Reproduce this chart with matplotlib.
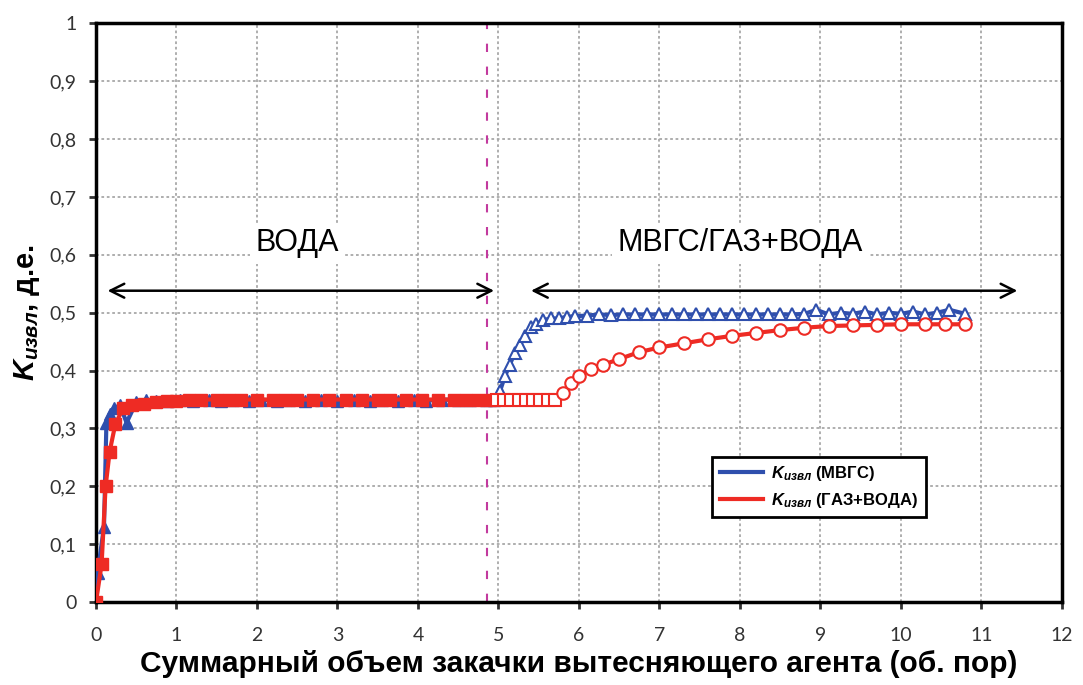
import matplotlib
matplotlib.use('Agg')
import matplotlib.pyplot as plt
from matplotlib.ticker import FuncFormatter

plt.rcParams['font.family'] = ['Liberation Sans', 'DejaVu Sans']
plt.rcParams['mathtext.fontset'] = 'custom'
plt.rcParams['mathtext.rm'] = 'Liberation Sans:bold'
plt.rcParams['mathtext.it'] = 'Liberation Sans:italic:bold'
plt.rcParams['mathtext.bf'] = 'Liberation Sans:bold'

# МВГС, water stage (filled triangles)
blue_w_x = [0, 0.02, 0.1, 0.13, 0.17, 0.22, 0.3, 0.38, 0.5, 0.62, 0.75, 0.9, 1.05, 1.2, 1.4,
            1.55, 1.7, 1.9, 2.05, 2.25, 2.4, 2.6, 2.8, 3.0, 3.2, 3.4, 3.55, 3.75, 3.95, 4.1,
            4.3, 4.5, 4.65, 4.85, 4.95]
blue_w_y = [0, 0.05, 0.13, 0.31, 0.325, 0.335, 0.34, 0.31, 0.345, 0.35, 0.347, 0.348, 0.35,
            0.347, 0.35, 0.348, 0.35, 0.348, 0.35, 0.347, 0.35, 0.348, 0.35, 0.347, 0.35,
            0.348, 0.35, 0.347, 0.35, 0.348, 0.35, 0.349, 0.35, 0.349, 0.35]
# МВГС, gas stage (open triangles)
blue_g_x = [5.02, 5.08, 5.14, 5.2, 5.27, 5.33, 5.4, 5.47, 5.55, 5.65, 5.75, 5.85, 5.95, 6.1,
            6.25, 6.4, 6.55, 6.7, 6.85, 7.0, 7.15, 7.3, 7.45, 7.6, 7.75, 7.9, 8.05, 8.2,
            8.35, 8.5, 8.65, 8.8, 8.95, 9.1, 9.25, 9.4, 9.55, 9.7, 9.85, 10.0, 10.15, 10.3,
            10.45, 10.6, 10.8]
blue_g_y = [0.365, 0.39, 0.41, 0.43, 0.445, 0.46, 0.475, 0.48, 0.487, 0.49, 0.49, 0.493,
            0.494, 0.495, 0.497, 0.496, 0.497, 0.497, 0.497, 0.497, 0.497, 0.497, 0.497,
            0.497, 0.497, 0.497, 0.497, 0.497, 0.497, 0.497, 0.497, 0.498, 0.505, 0.497,
            0.5, 0.498, 0.502, 0.497, 0.5, 0.498, 0.502, 0.497, 0.5, 0.505, 0.498]

# ГАЗ+ВОДА, water stage (filled squares)
red_w_x = [0, 0.07, 0.12, 0.17, 0.24, 0.34, 0.45, 0.6, 0.75, 0.88, 1.0, 1.15, 1.3, 1.5, 1.65,
           1.8, 2.0, 2.2, 2.35, 2.5, 2.7, 2.9, 3.1, 3.3, 3.5, 3.65, 3.85, 4.05, 4.25, 4.45,
           4.6, 4.75, 4.9]
red_w_y = [0, 0.065, 0.2, 0.26, 0.307, 0.336, 0.34, 0.342, 0.345, 0.348, 0.348, 0.349, 0.35,
           0.35, 0.35, 0.35, 0.35, 0.35, 0.35, 0.35, 0.35, 0.35, 0.35, 0.35, 0.35, 0.35,
           0.35, 0.35, 0.35, 0.35, 0.35, 0.35, 0.35]
# ГАЗ+ВОДА, gas stage (open squares, then open circles)
red_s_x = [4.98, 5.07, 5.16, 5.25, 5.34, 5.43, 5.52, 5.61, 5.7]
red_s_y = [0.35, 0.35, 0.35, 0.35, 0.35, 0.35, 0.35, 0.35, 0.35]
red_c_x = [5.8, 5.9, 6.0, 6.15, 6.3, 6.5, 6.75, 7.0, 7.3, 7.6, 7.9, 8.2, 8.5, 8.8, 9.1,
           9.4, 9.7, 10.0, 10.3, 10.55, 10.8]
red_c_y = [0.362, 0.378, 0.39, 0.403, 0.41, 0.42, 0.432, 0.44, 0.447, 0.454, 0.46, 0.465,
           0.47, 0.474, 0.477, 0.478, 0.479, 0.48, 0.48, 0.48, 0.48]

x_ticks = list(range(0, 13))
y_ticks = [i / 10 for i in range(11)]
switch_x = 4.86

blue = '#2f4fad'
red = '#ee2b24'

fig = plt.figure(figsize=(10.83, 6.85), dpi=100)
ax = fig.add_axes([0.0886, 0.121, 0.892, 0.845])

ax.plot(blue_w_x + blue_g_x, blue_w_y + blue_g_y, color=blue, lw=3, zorder=3)
ax.plot(blue_w_x, blue_w_y, ls='none', marker='^', ms=8, color=blue, zorder=4)
ax.plot(blue_g_x, blue_g_y, ls='none', marker='^', ms=8, mfc='white', mec=blue, mew=1.5, zorder=4)

ax.plot(red_w_x + red_s_x + red_c_x, red_w_y + red_s_y + red_c_y, color=red, lw=3, zorder=5)
ax.plot(red_w_x, red_w_y, ls='none', marker='s', ms=8, color=red, zorder=6)
ax.plot(red_s_x, red_s_y, ls='none', marker='s', ms=8, mfc='white', mec=red, mew=1.5, zorder=6)
ax.plot(red_c_x, red_c_y, ls='none', marker='o', ms=9, mfc='white', mec=red, mew=1.5, zorder=6)

ax.axvline(switch_x, color='#c23a9e', lw=1.5, dashes=(4, 7), zorder=2)

ax.annotate('', xy=(0.11, 0.538), xytext=(4.98, 0.538),
            arrowprops=dict(arrowstyle='<->', color='black', lw=1.8, mutation_scale=25))
ax.annotate('', xy=(5.37, 0.538), xytext=(11.48, 0.538),
            arrowprops=dict(arrowstyle='<->', color='black', lw=1.8, mutation_scale=25))
ax.text(2.5, 0.62, 'ВОДА', fontsize=22, ha='center', va='center',
        bbox=dict(fc='white', ec='none', pad=4))
ax.text(8.0, 0.62, 'МВГС/ГАЗ+ВОДА', fontsize=22, ha='center', va='center',
        bbox=dict(fc='white', ec='none', pad=4))

ax.set_xlim(0, 12)
ax.set_ylim(0, 1)
ax.set_xticks(x_ticks)
ax.set_yticks(y_ticks)
ax.yaxis.set_major_formatter(FuncFormatter(lambda v, p: ('%g' % v).replace('.', ',')))
ax.grid(True, color='#a8a8a8', ls=(0, (1.5, 1.5)), lw=1.3)
ax.set_axisbelow(True)
for s in ax.spines.values():
    s.set_color('black')
    s.set_linewidth(2.5)
ax.tick_params(direction='out', length=5, width=2, labelsize=14, colors='#333333')
ax.tick_params(axis='x', pad=13)
ax.tick_params(axis='y', pad=9)
for lab in ax.get_xticklabels() + ax.get_yticklabels():
    lab.set_family(['Lato', 'DejaVu Sans'])

ax.set_xlabel('Суммарный объем закачки вытесняющего агента (об. пор)',
              fontsize=21.5, fontweight='bold', labelpad=4)
ax.set_ylabel(r'$K_{извл}$, д.е.', fontsize=21, fontweight='bold', labelpad=5)

h1, = ax.plot([], [], color=blue, lw=3)
h2, = ax.plot([], [], color=red, lw=3)
leg = ax.legend([h1, h2], [r'$K_{извл}$ (МВГС)', r'$K_{извл}$ (ГАЗ+ВОДА)'],
                loc='lower left', bbox_to_anchor=(0.638, 0.147), borderaxespad=0,
                fancybox=False, edgecolor='black', framealpha=1, handlelength=2.6,
                handletextpad=0.5, prop={'weight': 'bold', 'size': 12},
                borderpad=0.45, labelspacing=0.45)
leg.get_frame().set_linewidth(2)

fig.savefig('out.png', dpi=100)
